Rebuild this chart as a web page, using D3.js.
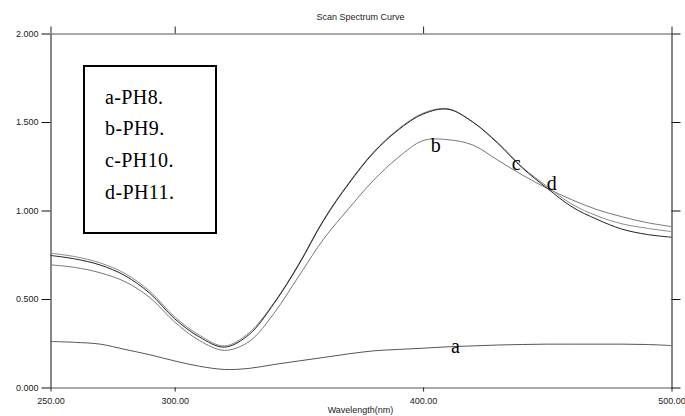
<!DOCTYPE html>
<html>
<head>
<meta charset="utf-8">
<script src="https://cdn.jsdelivr.net/npm/d3@7"></script>
<style>
  body { margin: 0; background: #fff; }
  svg { display: block; }
</style>
</head>
<body>
<div id="chart"></div>
<script>
// wavelength grid (nm) and absorbance of each pH scan
const wavelengths = d3.range(250, 501, 10);

const phA = [0.260, 0.255, 0.245, 0.215, 0.185, 0.150, 0.120, 0.102, 0.108, 0.130, 0.150, 0.170, 0.190,
             0.207, 0.215, 0.222, 0.230, 0.235, 0.240, 0.243, 0.245, 0.245, 0.245, 0.245, 0.243, 0.237];
const phB = [0.693, 0.678, 0.648, 0.598, 0.508, 0.370, 0.265, 0.210, 0.260, 0.420, 0.630, 0.840, 1.010,
             1.170, 1.300, 1.395, 1.400, 1.370, 1.285, 1.200, 1.125, 1.060, 1.005, 0.965, 0.932, 0.909];
const phC = [0.759, 0.739, 0.704, 0.644, 0.544, 0.399, 0.295, 0.235, 0.310, 0.480, 0.700, 0.950, 1.155,
             1.330, 1.460, 1.550, 1.575, 1.500, 1.385, 1.245, 1.135, 1.035, 0.970, 0.925, 0.900, 0.881];
const phD = [0.746, 0.726, 0.692, 0.632, 0.532, 0.388, 0.285, 0.228, 0.300, 0.475, 0.695, 0.945, 1.150,
             1.325, 1.455, 1.545, 1.572, 1.500, 1.380, 1.240, 1.125, 1.020, 0.950, 0.895, 0.865, 0.849];

const series = [
    {name: "a", values: phA, color: "#555"},
    {name: "b", values: phB, color: "#777"},
    {name: "c", values: phC, color: "#8a8a8a"},
    {name: "d", values: phD, color: "#222"}
];

const legendItems = ["a-PH8.", "b-PH9.", "c-PH10.", "d-PH11."];
// curve letters, placed in data coordinates
const curveLabels = [
    {text: "a", wl: 411.2, v: 0.196},
    {text: "b", wl: 403.1, v: 1.331},
    {text: "c", wl: 435.7, v: 1.229},
    {text: "d", wl: 449.8, v: 1.116}
];

const xTicks = [250, 300, 400, 500];
const yTicks = [0, 0.5, 1, 1.5, 2];

const width = 685, height = 416;

const svg = d3.select("#chart")
              .append("svg")
              .attr("width", width)
              .attr("height", height);

const xScale = d3.scaleLinear()
                 .domain([250, 500])
                 .range([50.5, 671.5]);

const yScale = d3.scaleLinear()
                 .domain([0, 2])
                 .range([387.5, 33.5]);

const tickFont = g => g.selectAll("text")
                       .attr("fill", "#222")
                       .style("font-family", "'Liberation Sans', Arial, sans-serif")
                       .style("font-size", "9px");

// left axis with labels
svg.append("g")
   .attr("transform", `translate(${xScale.range()[0]},0)`)
   .call(d3.axisLeft(yScale).tickValues(yTicks).tickFormat(d3.format(".3f")).tickSize(9).tickSizeOuter(0).tickPadding(3))
   .call(tickFont)
   .call(g => g.selectAll("line, path").attr("stroke", "#111"));

// right axis, ticks only
svg.append("g")
   .attr("transform", `translate(${xScale.range()[1]},0)`)
   .call(d3.axisRight(yScale).tickValues(yTicks).tickFormat("").tickSize(9).tickSizeOuter(0))
   .call(g => g.selectAll("line, path").attr("stroke", "#111"));

// bottom axis with labels
svg.append("g")
   .attr("transform", `translate(0,${yScale.range()[0]})`)
   .call(d3.axisBottom(xScale).tickValues(xTicks).tickFormat(d3.format(".2f")).tickSize(4).tickSizeOuter(0).tickPadding(6))
   .call(tickFont)
   .call(g => g.select("path").attr("stroke", "#555"))
   .call(g => g.selectAll("line").attr("stroke", "#222"));

// top axis, ticks only
svg.append("g")
   .attr("transform", `translate(0,${yScale.range()[1]})`)
   .call(d3.axisTop(xScale).tickValues(xTicks).tickFormat("").tickSize(7).tickSizeOuter(0))
   .call(g => g.select("path").attr("stroke", "#555"))
   .call(g => g.selectAll("line").attr("stroke", "#222"));

// title and axis label
svg.append("text")
   .attr("x", 360.5)
   .attr("y", 20)
   .attr("text-anchor", "middle")
   .attr("fill", "#222")
   .style("font-family", "'Liberation Sans', Arial, sans-serif")
   .style("font-size", "9px")
   .text("Scan Spectrum Curve");

svg.append("text")
   .attr("x", 360.5)
   .attr("y", 413)
   .attr("text-anchor", "middle")
   .attr("fill", "#222")
   .style("font-family", "'Liberation Sans', Arial, sans-serif")
   .style("font-size", "9px")
   .text("Wavelength(nm)");

// spectra
const line = d3.line()
               .x((d, i) => xScale(wavelengths[i]))
               .y(d => yScale(d))
               .curve(d3.curveCatmullRom.alpha(0.5));

series.forEach(s => {
    svg.append("path")
       .datum(s.values)
       .attr("fill", "none")
       .attr("stroke", s.color)
       .attr("stroke-width", 1)
       .attr("d", line);
});

// letters on the curves
curveLabels.forEach(l => {
    svg.append("text")
       .attr("x", xScale(l.wl))
       .attr("y", yScale(l.v))
       .style("font-family", "'Liberation Serif', 'Times New Roman', serif")
       .style("font-size", "20px")
       .text(l.text);
});

// legend box
const legend = svg.append("g");

legend.append("rect")
      .attr("x", 84)
      .attr("y", 66)
      .attr("width", 132)
      .attr("height", 167)
      .attr("fill", "#fff")
      .attr("stroke", "#000")
      .attr("stroke-width", 2);

legendItems.forEach((t, i) => {
    legend.append("text")
          .attr("x", 105)
          .attr("y", 103.5 + i * 31.7)
          .style("font-family", "'Liberation Serif', 'Times New Roman', serif")
          .style("font-size", "20px")
          .style("letter-spacing", "0.4px")
          .text(t);
});
</script>
</body>
</html>
